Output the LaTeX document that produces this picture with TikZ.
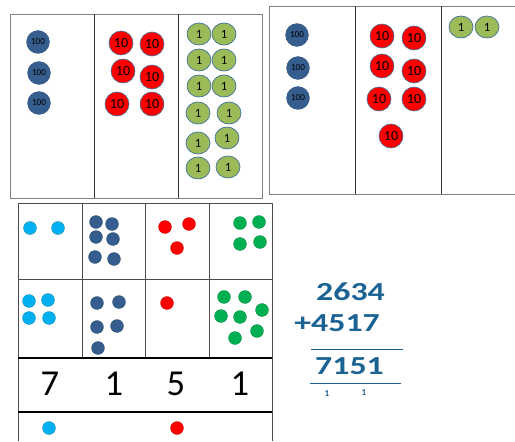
\documentclass[tikz,border=0pt]{standalone}
\usepackage{fontspec}
\setmainfont{Carlito}
\usepackage{tikz}
\usetikzlibrary{positioning, shapes.geometric}
\definecolor{coinBlue}{HTML}{355E8E}
\definecolor{coinRed}{HTML}{FF0000}
\definecolor{coinGreen}{HTML}{9BBB59}
\definecolor{coinEdge}{HTML}{41719C}
\definecolor{dotSky}{HTML}{00B0F0}
\definecolor{dotGreen}{HTML}{00B050}
\definecolor{sumBlue}{HTML}{1B6392}
\definecolor{boxGray}{HTML}{808080}

\begin{document}
\begin{tikzpicture}[
  x=0.5mm, y=-0.5mm,
  hcoin/.style={circle, minimum size=11.5mm, inner sep=0pt,
    fill=coinBlue, draw=coinBlue!80!black, line width=0.4pt,
    font=\fontsize{13}{13}\selectfont},
  tcoin/.style={circle, minimum size=12mm, inner sep=0pt,
    fill=coinRed, draw=coinEdge, line width=0.9pt,
    font=\fontsize{20}{20}\selectfont},
  ucoin/.style={ellipse, minimum width=12mm, minimum height=11mm, inner sep=0pt,
    fill=coinGreen, draw=coinEdge, line width=1pt,
    font=\fontsize{18}{18}\selectfont},
  pdot/.style={circle, minimum size=6.5mm, inner sep=0pt,
    fill=#1, draw=#1!70!black, line width=0.3pt},
  digit/.style={font=\fontsize{52}{52}\selectfont},
  sumtext/.style={text=sumBlue, xscale=1.3, font=\fontsize{37}{37}\selectfont\bfseries},
  carry/.style={text=sumBlue, font=\fontsize{13}{13}\selectfont\bfseries},
]
\useasboundingbox (0,0) rectangle (515,441);

% === TOP LEFT BOARD ===
\draw[boxGray, line width=0.6pt] (10,14) rectangle (262,198);
\draw[black!80, line width=0.5pt] (94,14) -- (94,198);
\draw[black!80, line width=0.5pt] (178,14) -- (178,198);

% Hundreds
\node[hcoin] (l-h1) at (38,42) {100};
\node[hcoin] (l-h2) at (39,73) {100};
\node[hcoin] (l-h3) at (39,103) {100};
% Tens
\node[tcoin] (l-t1) at (121,43) {10};
\node[tcoin] (l-t2) at (152,44) {10};
\node[tcoin] (l-t3) at (123,71) {10};
\node[tcoin] (l-t4) at (152,77) {10};
\node[tcoin] (l-t5) at (117,104) {10};
\node[tcoin] (l-t6) at (152,104) {10};
% Ones
\foreach \x/\y [count=\i] in {199/34, 224/34, 199/60, 224/60, 199/86, 224/86,
    198/113, 229/113, 198/143, 227/138, 198/168, 228/167} {
  \node[ucoin] (l-u\i) at (\x,\y) {1};
}

% === TOP RIGHT BOARD ===
\draw[boxGray, line width=0.6pt] (516,6) -- (269,6) -- (269,194) -- (516,194);
\draw[black!80, line width=0.5pt] (355,6) -- (355,194);
\draw[black!80, line width=0.5pt] (441,6) -- (441,194);

% Hundreds
\node[hcoin] (r-h1) at (297,35) {100};
\node[hcoin] (r-h2) at (298,68) {100};
\node[hcoin] (r-h3) at (298,98) {100};
% Tens
\node[tcoin] (r-t1) at (382,36) {10};
\node[tcoin] (r-t2) at (414,38) {10};
\node[tcoin] (r-t3) at (382,66) {10};
\node[tcoin] (r-t4) at (414,71) {10};
\node[tcoin] (r-t5) at (379,99) {10};
\node[tcoin] (r-t6) at (414,99) {10};
\node[tcoin] (r-t7) at (391,136) {10};
% Ones
\node[ucoin] (r-u1) at (461,27) {1};
\node[ucoin] (r-u2) at (487,27) {1};

% === PLACE VALUE GRID ===
\draw[black!70, line width=0.5pt] (18,441) -- (18,203) -- (272,203) -- (272,441);
\draw[black!70, line width=0.5pt] (18,279) -- (272,279);
\foreach \x in {82,145,209} {
  \draw[black!70, line width=0.5pt] (\x,203) -- (\x,358);
}
\draw[black, line width=1.6pt] (18,358) -- (272,358);
\draw[black, line width=1.6pt] (18,412) -- (272,412);

% Row 1
\node[pdot=dotSky] (a-s1) at (30,228) {};
\node[pdot=dotSky] (a-s2) at (58,228) {};
\foreach \x/\y [count=\i] in {96/222, 112/224, 96/237, 113/239, 95/257, 114/259} {
  \node[pdot=coinBlue] (a-b\i) at (\x,\y) {};
}
\foreach \x/\y [count=\i] in {165/227, 189/224, 177/248} {
  \node[pdot=coinRed] (a-r\i) at (\x,\y) {};
}
\foreach \x/\y [count=\i] in {240/223, 259/222, 240/244, 260/242} {
  \node[pdot=dotGreen] (a-g\i) at (\x,\y) {};
}

% Row 2
\foreach \x/\y [count=\i] in {29/301, 48/300, 29/318, 49/318} {
  \node[pdot=dotSky] (b-s\i) at (\x,\y) {};
}
\foreach \x/\y [count=\i] in {97/303, 119/302, 97/327, 117/326, 98/348} {
  \node[pdot=coinBlue] (b-b\i) at (\x,\y) {};
}
\node[pdot=coinRed] (b-r1) at (167,303) {};
\foreach \x/\y [count=\i] in {224/297, 245/297, 221/316, 240/317, 262/310, 257/331, 235/338} {
  \node[pdot=dotGreen] (b-g\i) at (\x,\y) {};
}

% Digits
\node[digit] (d-1) at (50,384) {7};
\node[digit] (d-2) at (114,384) {1};
\node[digit] (d-3) at (176,384) {5};
\node[digit] (d-4) at (240,384) {1};

% Carried dots
\node[pdot=dotSky] (c-s1) at (49,428) {};
\node[pdot=coinRed] (c-r1) at (177,428) {};

% === WRITTEN SUM ===
\node[sumtext, anchor=east] (s-top) at (388,292) {2634};
\node[sumtext, anchor=east] (s-add) at (383,323) {+4517};
\node[sumtext, anchor=east] (s-res) at (387,366) {7151};
\coordinate (rule1-l) at (311,349);
\coordinate (rule1-r) at (403,349);
\coordinate (rule2-l) at (310,383);
\coordinate (rule2-r) at (401,383);
\draw[sumBlue, line width=1pt] (rule1-l) -- (rule1-r);
\draw[sumBlue, line width=1pt] (rule2-l) -- (rule2-r);
\node[carry] (s-c1) at (327,394) {1};
\node[carry] (s-c2) at (364,393) {1};

\end{tikzpicture}
\end{document}
